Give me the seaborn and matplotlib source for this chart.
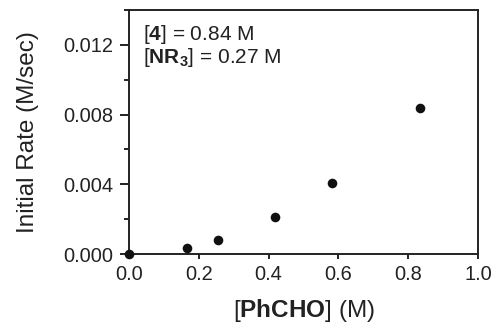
import matplotlib
matplotlib.use("Agg")
import matplotlib.pyplot as plt
import seaborn as sns
import pandas as pd
from matplotlib.ticker import MultipleLocator

conc_phcho = [0.0, 0.167, 0.254, 0.418, 0.583, 0.833]
initial_rate = [0.0, 0.00036, 0.0008, 0.0021, 0.00408, 0.00836]
x_ticks = [0.0, 0.2, 0.4, 0.6, 0.8, 1.0]
y_ticks = [0.000, 0.004, 0.008, 0.012]

sns.set_theme(style="ticks")
plt.rcParams['font.family'] = ['Liberation Sans', 'DejaVu Sans']
plt.rcParams['mathtext.fontset'] = 'custom'
plt.rcParams['mathtext.rm'] = 'Liberation Sans'
plt.rcParams['mathtext.bf'] = 'Liberation Sans:bold'
plt.rcParams['mathtext.it'] = 'Liberation Sans:italic'

df = pd.DataFrame({"x": conc_phcho, "y": initial_rate})

fig = plt.figure(figsize=(4.96, 3.24), dpi=100)
ax = fig.add_axes([129/496, 1 - 254/324, (478-129)/496, (254-10)/324])
sns.scatterplot(data=df, x="x", y="y", ax=ax, s=48, color="#111111",
                edgecolor="#111111", linewidth=0, clip_on=False, zorder=5)

ax.set_xlim(0, 1.0)
ax.set_ylim(0, 0.014)
ax.set_xticks(x_ticks)
ax.set_xticklabels([f"{v:.1f}" for v in x_ticks])
ax.set_yticks(y_ticks)
ax.set_yticklabels([f"{v:.3f}" for v in y_ticks])
ax.yaxis.set_minor_locator(MultipleLocator(0.002))
for s in ax.spines.values():
    s.set_color("#222222")
    s.set_linewidth(1.4)
ax.tick_params(axis="x", which="major", direction="out", length=3.6, width=1.4,
               colors="#222222", labelsize=14.4, labelcolor="#222222", pad=4)
ax.tick_params(axis="y", which="major", direction="out", length=6.5, width=1.4,
               colors="#222222", labelsize=14.4, labelcolor="#222222", pad=4.5)
ax.tick_params(axis="y", which="minor", direction="out", length=3.6, width=1.4, colors="#222222")

ax.set_xlabel(r"[$\mathbf{PhCHO}$] (M)", fontsize=17.5, color="#222222", labelpad=10)
ax.set_ylabel("Initial Rate (M/sec)", fontsize=17.5, color="#222222", labelpad=18)

ax.text(0.04, 0.945, r"[$\mathbf{4}$] = 0.84 M" + "\n" + r"[$\mathbf{NR_3}$] = 0.27 M",
        transform=ax.transAxes, fontsize=15, va="top", ha="left", color="#222222",
        linespacing=0.95)

fig.savefig("out.png", dpi=100)
